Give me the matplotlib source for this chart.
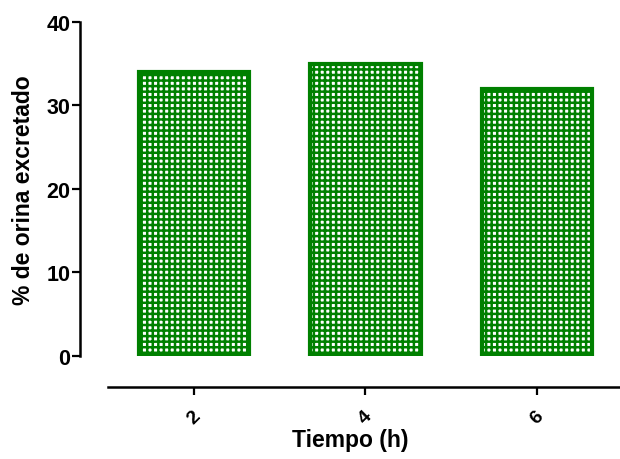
import matplotlib.pyplot as plt
import numpy as np

plt.rcParams['font.family'] = ['Liberation Sans', 'DejaVu Sans']
plt.rcParams['font.weight'] = 'bold'
plt.rcParams['hatch.linewidth'] = 1.8
plt.rcParams['hatch.color'] = '#008000'

# % of urine excreted at each time point
tiempo = [2, 4, 6]
excretado = [34.0, 35.0, 32.0]
tick_labels = ['2', '4', '6']

fig = plt.figure(figsize=(6.2, 4.6), dpi=100)
ax = fig.add_axes([0.129, 0.224, 0.871, 0.726])

ax.bar(tiempo, excretado, width=1.29, facecolor='white', edgecolor='#008000',
       hatch='+++', linewidth=3.0, zorder=2)

ax.set_xlim(0.671, 6.968)
ax.set_ylim(0, 40)
ax.set_yticks([0, 10, 20, 30, 40])
ax.set_xticks(tiempo)
ax.set_xticklabels(tick_labels)
ax.tick_params(axis='y', labelsize=15.5, width=1.6, length=6, pad=1)
ax.tick_params(axis='x', labelsize=14, width=1.6, length=6, pad=9,
               labelrotation=45)

for s in ['top', 'right']:
    ax.spines[s].set_visible(False)
ax.spines['left'].set_linewidth(1.8)
ax.spines['bottom'].set_linewidth(1.8)
ax.spines['bottom'].set_position(('outward', 22))
ax.spines['bottom'].set_bounds(1.0, 6.968)

ax.set_ylabel('% de orina excretado', fontsize=16.5, fontweight='bold', labelpad=8)
ax.set_xlabel('Tiempo (h)', fontsize=16.5, fontweight='bold', labelpad=1)

fig.savefig('out.png', dpi=100)
